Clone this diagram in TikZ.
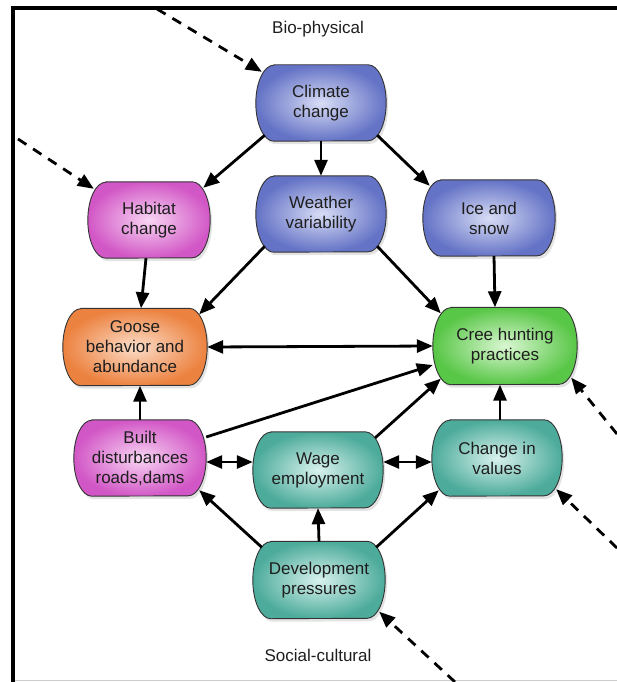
\documentclass[tikz,border=0pt]{standalone}
\usepackage{fontspec}
\setmainfont{Liberation Sans}
\usetikzlibrary{arrows.meta,shadows,backgrounds}

\definecolor{blueOut}{HTML}{6473C6}
\definecolor{blueIn}{HTML}{D8DDF5}
\definecolor{pinkOut}{HTML}{D257C6}
\definecolor{pinkIn}{HTML}{F8D5F3}
\definecolor{orangeOut}{HTML}{EC8240}
\definecolor{orangeIn}{HTML}{FCDDC8}
\definecolor{greenOut}{HTML}{58C646}
\definecolor{greenIn}{HTML}{DAF7D2}
\definecolor{tealOut}{HTML}{4CAB9B}
\definecolor{tealIn}{HTML}{D8F2ED}
\definecolor{inkText}{HTML}{1E1E1E}

\tikzset{
  % text part of a box; the outline is drawn on the background layer
  box/.style={minimum width=130pt, minimum height=76pt, inner sep=0pt,
    align=center, text=inkText, font=\fontsize{17}{20}\selectfont},
  widebox/.style={box, minimum width=144pt, minimum height=77pt},
  capsule/.style={draw=black!80, line width=0.9pt,
    drop shadow={opacity=0.22, shadow xshift=2pt, shadow yshift=-3pt}},
  blueshade/.style={capsule, inner color=blueIn, outer color=blueOut},
  pinkshade/.style={capsule, inner color=pinkIn, outer color=pinkOut},
  orangeshade/.style={capsule, inner color=orangeIn, outer color=orangeOut},
  greenshade/.style={capsule, inner color=greenIn, outer color=greenOut},
  tealshade/.style={capsule, inner color=tealIn, outer color=tealOut},
  tip/.tip={Triangle[length=16pt,width=13pt]},
  arr/.style={line width=2.8pt, -tip},
  biarr/.style={line width=2.8pt, tip-tip},
  dasharr/.style={line width=2.8pt, -tip, dash pattern=on 10pt off 8pt},
  heading/.style={font=\fontsize{17}{20}\selectfont, text=inkText},
  frameline/.style={line width=3.5pt, black}
}

% outline with flat top and bottom and half-ellipse sides around node #1,
% filled with style #2; #3 is half the height of the box
\newcommand\capsuleof[3]{%
  \path[#2] ([xshift=18pt]#1.north west) -- ([xshift=-18pt]#1.north east)
    arc[start angle=90, end angle=-90, x radius=18pt, y radius=#3]
    -- ([xshift=18pt]#1.south west)
    arc[start angle=270, end angle=90, x radius=18pt, y radius=#3]
    -- cycle;}

\begin{document}
\begin{tikzpicture}[x=1pt,y=-1pt]
  \useasboundingbox (0,0) rectangle (617,682);

  % outer frame: black top and left, light grey bottom
  \draw[line width=1.5pt, black!20] (13,680.5) -- (617,680.5);
  \draw[frameline] (13,682) -- (13,8) -- (617,8);

  % headings
  \node[heading] (bio) at (318,29) {Bio-physical};
  \node[heading] (soc) at (318,655) {Social-cultural};

  % bio-physical drivers
  \node[box] (climate) at (321,103) {Climate\\change};
  \node[box, minimum width=122pt] (habitat) at (149,220) {Habitat\\change};
  \node[box] (weather) at (321,214) {Weather\\variability};
  \node[box, minimum width=132pt] (ice) at (489,218) {Ice and\\snow};

  % central outcomes
  \node[widebox] (goose) at (135,347) {Goose\\behavior and\\abundance};
  \node[widebox] (cree) at (505,346) {Cree hunting\\practices};

  % social-cultural drivers
  \node[box, minimum width=132pt] (built) at (140,458) {Built\\disturbances\\roads,dams};
  \node[box] (wage) at (318,470) {Wage\\employment};
  \node[box] (values) at (497,458) {Change in\\values};
  \node[box, minimum width=132pt, minimum height=77pt] (dev) at (319,580) {Development\\pressures};

  % shaded outlines behind the texts
  \begin{pgfonlayer}{background}
    \capsuleof{climate}{blueshade}{38pt}
    \capsuleof{habitat}{pinkshade}{38pt}
    \capsuleof{weather}{blueshade}{38pt}
    \capsuleof{ice}{blueshade}{38pt}
    \capsuleof{goose}{orangeshade}{38.5pt}
    \capsuleof{cree}{greenshade}{38.5pt}
    \capsuleof{built}{pinkshade}{38pt}
    \capsuleof{wage}{tealshade}{38pt}
    \capsuleof{values}{tealshade}{38pt}
    \capsuleof{dev}{tealshade}{38.5pt}
  \end{pgfonlayer}

  % free ends of the external influences
  \coordinate (extA) at (157,9);
  \coordinate (extB) at (18,139);
  \coordinate (extC) at (617,434);
  \coordinate (extD) at (617,548);
  \coordinate (extE) at (455,682);

  % external influences (dashed)
  \draw[dasharr] (extA) -- ([xshift=6pt,yshift=-7pt]climate.north west);
  \draw[dasharr] (extB) -- ([xshift=6pt,yshift=-7pt]habitat.north west);
  \draw[dasharr] (extC) -- ([xshift=-6pt,yshift=7pt]cree.south east);
  \draw[dasharr] (extD) -- ([xshift=-6pt,yshift=7pt]values.south east);
  \draw[dasharr] (extE) -- ([xshift=-6pt,yshift=7pt]dev.south east);

  % climate cascade
  \draw[arr] ([xshift=9pt,yshift=6pt]climate.south west) -- ([xshift=-7pt,yshift=-6pt]habitat.north east);
  \draw[arr] (climate.south) -- (weather.north);
  \draw[arr] ([xshift=-9pt,yshift=6pt]climate.south east) -- ([xshift=7pt,yshift=-6pt]ice.north west);

  % into the goose and hunting nodes
  \draw[arr] ([xshift=-3pt]habitat.south) -- ([xshift=6pt]goose.north);
  \draw[arr] ([xshift=9pt,yshift=6pt]weather.south west) -- ([xshift=-8pt,yshift=-6pt]goose.north east);
  \draw[arr] ([xshift=-9pt,yshift=6pt]weather.south east) -- ([xshift=8pt,yshift=-6pt]cree.north west);
  \draw[arr] ([xshift=5pt]ice.south) -- ([xshift=-10pt]cree.north);
  \draw[biarr] (goose.east) -- (cree.west);

  % social-cultural links
  \draw[arr] (built.north) -- ([xshift=5pt]goose.south);
  \draw[arr] ([yshift=21pt]built.east) -- ([yshift=-19pt]cree.west);
  \draw[arr] ([xshift=-8pt,yshift=-6pt]wage.north east) -- ([xshift=8pt,yshift=6pt]cree.south west);
  \draw[arr] ([xshift=3pt]values.north) -- ([xshift=-5pt]cree.south);
  \draw[biarr] ([yshift=-4pt]built.east) -- ([yshift=8pt]wage.west);
  \draw[biarr] ([yshift=8pt]wage.east) -- ([yshift=-4pt]values.west);

  % development pressures
  \draw[arr] ([xshift=9pt,yshift=-6pt]dev.north west) -- ([xshift=-7pt,yshift=6pt]built.south east);
  \draw[arr] (dev.north) -- (wage.south);
  \draw[arr] ([xshift=-9pt,yshift=-6pt]dev.north east) -- ([xshift=7pt,yshift=6pt]values.south west);
\end{tikzpicture}
\end{document}
